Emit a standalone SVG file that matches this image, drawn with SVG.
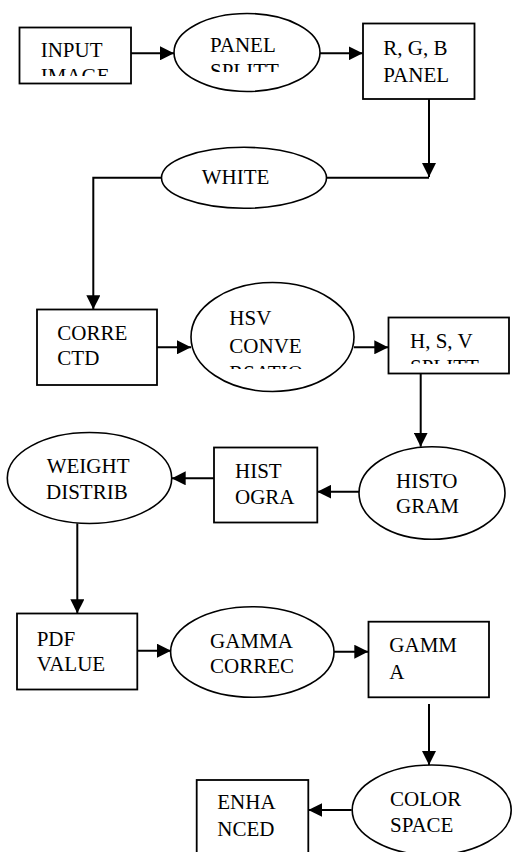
<svg xmlns="http://www.w3.org/2000/svg" width="512" height="852" viewBox="0 0 512 852">
<style>
.box{fill:#fff;stroke:#000;stroke-width:1.8}
.ell{fill:#fff;stroke:#000;stroke-width:1.6}
.t{font-family:"Liberation Serif","Times New Roman",serif;font-size:21px;fill:#000}
.c{fill:none;stroke:#000;stroke-width:2}
</style>
<defs>
<marker id="ah" markerUnits="userSpaceOnUse" markerWidth="14" markerHeight="14" refX="14" refY="7" orient="auto">
<path d="M0,0 L14,7 L0,14 z" fill="#000"/>
</marker>
<clipPath id="clipInput"><rect x="19" y="27" width="112" height="49"/></clipPath>
<clipPath id="clipPanel"><rect x="174" y="13" width="146" height="59"/></clipPath>
<clipPath id="clipHsv"><rect x="191" y="282" width="163" height="87"/></clipPath>
<clipPath id="clipHsvSplit"><rect x="388" y="317" width="121" height="47"/></clipPath>
</defs>
<rect width="512" height="852" fill="#fff"/>
<g id="connectors">
<line class="c" x1="131" y1="53.3" x2="174" y2="53.3" marker-end="url(#ah)"/>
<line class="c" x1="320" y1="53.3" x2="362.7" y2="53.3" marker-end="url(#ah)"/>
<line class="c" x1="429" y1="99" x2="429" y2="177" marker-end="url(#ah)"/>
<polyline class="c" points="429,177.7 326.5,177.7"/>
<polyline class="c" points="161.7,177.7 93.3,177.7 93.3,309.3" marker-end="url(#ah)"/>
<line class="c" x1="157" y1="347.3" x2="191" y2="347.3" marker-end="url(#ah)"/>
<line class="c" x1="354" y1="347.3" x2="388.3" y2="347.3" marker-end="url(#ah)"/>
<line class="c" x1="420.7" y1="373.3" x2="420.7" y2="446.7" marker-end="url(#ah)"/>
<line class="c" x1="359.3" y1="491.7" x2="317.3" y2="491.7" marker-end="url(#ah)"/>
<line class="c" x1="214" y1="478.3" x2="171.7" y2="478.3" marker-end="url(#ah)"/>
<line class="c" x1="77.3" y1="523.3" x2="77.3" y2="613.3" marker-end="url(#ah)"/>
<line class="c" x1="137.3" y1="650.7" x2="171" y2="650.7" marker-end="url(#ah)"/>
<line class="c" x1="334" y1="651.7" x2="368.3" y2="651.7" marker-end="url(#ah)"/>
<line class="c" x1="429" y1="704" x2="429" y2="765" marker-end="url(#ah)"/>
<line class="c" x1="351.7" y1="810" x2="308.3" y2="810" marker-end="url(#ah)"/>
</g>
<g id="input-image">
<rect class="box" x="19.5" y="27.5" width="111.5" height="56"/>
<g clip-path="url(#clipInput)"><text class="t" x="40.7" y="57">INPUT</text><text class="t" x="40.7" y="83">IMAGE</text></g>
</g>
<g id="panel-split">
<ellipse class="ell" cx="247" cy="52.5" rx="73" ry="39"/>
<g clip-path="url(#clipPanel)"><text class="t" x="210" y="52">PANEL</text><text class="t" x="210" y="78">SPLITT</text></g>
</g>
<g id="rgb-panel">
<rect class="box" x="363" y="23.5" width="111.5" height="75.5"/>
<text class="t" x="383.3" y="55">R, G, B</text><text class="t" x="383.3" y="81.7">PANEL</text>
</g>
<g id="white">
<ellipse class="ell" cx="244" cy="177.8" rx="82.5" ry="30.5"/>
<text class="t" x="201.7" y="184">WHITE</text>
</g>
<g id="corrected">
<rect class="box" x="37" y="309.5" width="120" height="75.5"/>
<text class="t" x="57.3" y="340">CORRE</text><text class="t" x="57.3" y="365">CTD</text>
</g>
<g id="hsv-conversation">
<ellipse class="ell" cx="272.5" cy="337" rx="81.5" ry="54.5"/>
<g clip-path="url(#clipHsv)"><text class="t" x="229.3" y="325">HSV</text><text class="t" x="229.3" y="352.5">CONVE</text><text class="t" x="229.3" y="380">RSATIO</text></g>
</g>
<g id="hsv-split">
<rect class="box" x="388.5" y="317.5" width="120.5" height="56"/>
<g clip-path="url(#clipHsvSplit)"><text class="t" x="410" y="348.3">H, S, V</text><text class="t" x="410" y="374">SPLITT</text></g>
</g>
<g id="histogram">
<ellipse class="ell" cx="432" cy="493" rx="73" ry="46.3"/>
<text class="t" x="396" y="488.3">HISTO</text><text class="t" x="396" y="513.3">GRAM</text>
</g>
<g id="histogra">
<rect class="box" x="214" y="447.5" width="103.3" height="75"/>
<text class="t" x="235" y="478.3">HIST</text><text class="t" x="235" y="504">OGRA</text>
</g>
<g id="weight-distrib">
<ellipse class="ell" cx="89.5" cy="478" rx="82.2" ry="45.5"/>
<text class="t" x="46.7" y="472.7">WEIGHT</text><text class="t" x="46" y="499.3">DISTRIB</text>
</g>
<g id="pdf-value">
<rect class="box" x="17" y="613.5" width="120.3" height="76"/>
<text class="t" x="36.7" y="646">PDF</text><text class="t" x="36.7" y="670.7">VALUE</text>
</g>
<g id="gamma-correc">
<ellipse class="ell" cx="252.3" cy="652" rx="81.7" ry="45.3"/>
<text class="t" x="210" y="647.7">GAMMA</text><text class="t" x="210" y="673.3">CORREC</text>
</g>
<g id="gamma">
<rect class="box" x="368.5" y="621.7" width="120.5" height="75.6"/>
<text class="t" x="389.3" y="651.7">GAMM</text><text class="t" x="389.3" y="679">A</text>
</g>
<g id="color-space">
<ellipse class="ell" cx="431.7" cy="810" rx="79.5" ry="45"/>
<text class="t" x="390" y="806">COLOR</text><text class="t" x="390" y="831.7">SPACE</text>
</g>
<g id="enhanced">
<rect class="box" x="196.7" y="780" width="111.6" height="80"/>
<text class="t" x="217.3" y="809.3">ENHA</text><text class="t" x="217.3" y="836">NCED</text>
</g>
</svg>
